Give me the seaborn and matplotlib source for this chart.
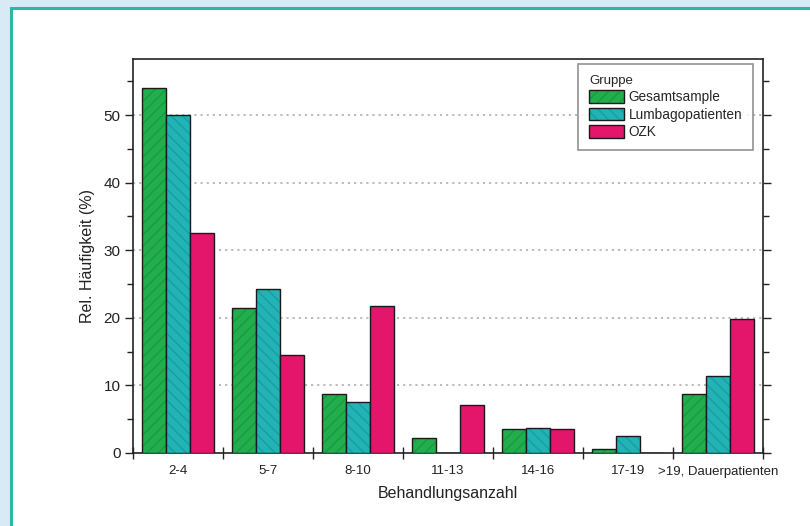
import matplotlib
matplotlib.use("Agg")
import matplotlib.pyplot as plt
from matplotlib.patches import Rectangle
from matplotlib.colors import to_rgba
import seaborn as sns
import pandas as pd
import numpy as np

categories = ["2-4", "5-7", "8-10", "11-13", "14-16", "17-19", ">19, Dauerpatienten"]
groups = ["Gesamtsample", "Lumbagopatienten", "OZK"]
gesamt = [54.0, 21.5, 8.8, 2.2, 3.6, 0.6, 8.8]
lumbago = [50.0, 24.3, 7.6, 0.0, 3.7, 2.5, 11.4]
ozk = [32.6, 14.5, 21.8, 7.1, 3.6, 0.0, 19.9]
y_ticks = [0, 10, 20, 30, 40, 50]

colors = ["#22ae4c", "#22b3b6", "#e3166b"]
hatch_colors = ["#1a9a40", "#1a9da0", None]
hatches = ["///", "\\\\\\", None]

df = pd.DataFrame({
    "Behandlungsanzahl": categories * 3,
    "value": gesamt + lumbago + ozk,
    "Gruppe": [g for g in groups for _ in categories],
})

sns.set_theme(style="white")
plt.rcParams["font.family"] = ["Liberation Sans", "DejaVu Sans"]
plt.rcParams["hatch.linewidth"] = 1.0

fig = plt.figure(figsize=(8.10, 5.26), dpi=100)
fig.patch.set_facecolor("#d9eaf7")
panel = Rectangle((10.5 / 810, -0.01), 1.02, (526 - 7.5) / 526 + 0.01,
                  transform=fig.transFigure, facecolor="white",
                  edgecolor="#33b5a6", linewidth=2.2, zorder=-10)
fig.patches.append(panel)

ax = fig.add_axes([133 / 810, (526 - 453) / 526, 630 / 810, 394 / 526])
ax.set_facecolor("white")
ax.set_zorder(1)

sns.barplot(data=df, x="Behandlungsanzahl", y="value", hue="Gruppe",
            hue_order=groups, order=categories, palette=colors,
            width=0.79, gap=0, edgecolor="#1a1a1a", linewidth=1.0,
            saturation=1, legend=False, ax=ax, zorder=3)


def apply_hatch(p, h, hc):
    if not h:
        return
    p.set_hatch(h)
    if hasattr(p, "set_hatchcolor"):
        p.set_hatchcolor(hc)
    else:
        p._hatch_color = to_rgba(hc)


for cont, h, hc in zip(ax.containers, hatches, hatch_colors):
    for p in cont.patches:
        apply_hatch(p, h, hc)

ax.set_xlim(-0.5, 6.5)
ax.set_ylim(0, 58.3)
ax.set_yticks(y_ticks)
ax.set_yticks(np.arange(5, 58, 10), minor=True)
ax.yaxis.set_ticks_position("both")
ax.tick_params(axis="y", which="major", direction="out", length=6, width=1,
               color="#222222", labelsize=11, labelcolor="#222222", pad=3,
               right=True, labelright=False)
ax.tick_params(axis="y", which="minor", direction="out", length=4, width=1,
               color="#222222", right=True, left=True)

ax.set_xticks(range(len(categories)))
ax.set_xticklabels(categories)
ax.set_xticks(np.arange(-0.5, 7, 1), minor=True)
ax.tick_params(axis="x", which="major", length=0, labelsize=9.5,
               labelcolor="#222222", pad=9)
ax.tick_params(axis="x", which="minor", direction="inout", length=9, width=1,
               color="#222222", bottom=True, top=False)

for yv in y_ticks[1:]:
    ax.axhline(yv, color="#b5b5b5", linestyle=(0, (1.2, 2.2)), linewidth=1.3, zorder=1)

for s in ax.spines.values():
    s.set_color("#222222")
    s.set_linewidth(1.2)

ax.set_xlabel("Behandlungsanzahl", fontsize=11.5, color="#222222", labelpad=6)
ax.set_ylabel("Rel. Häufigkeit (%)", fontsize=11.5, color="#222222", labelpad=6)

handles = [c.patches[0] for c in ax.containers]
leg = ax.legend(handles, groups, title="Gruppe", loc="upper right",
                bbox_to_anchor=(0.984, 0.987), borderaxespad=0, fontsize=9.8,
                title_fontsize=9.5, frameon=True, fancybox=False,
                handlelength=2.6, handleheight=1.05, handletextpad=0.3,
                labelspacing=0.25, borderpad=0.8, alignment="left")
leg.get_frame().set_edgecolor("#777777")
leg.get_frame().set_linewidth(1.2)
leg.set_zorder(5)
for lp, h, hc in zip(leg.get_patches(), hatches, hatch_colors):
    apply_hatch(lp, h, hc)

fig.savefig("out.png", dpi=100, facecolor=fig.get_facecolor())
